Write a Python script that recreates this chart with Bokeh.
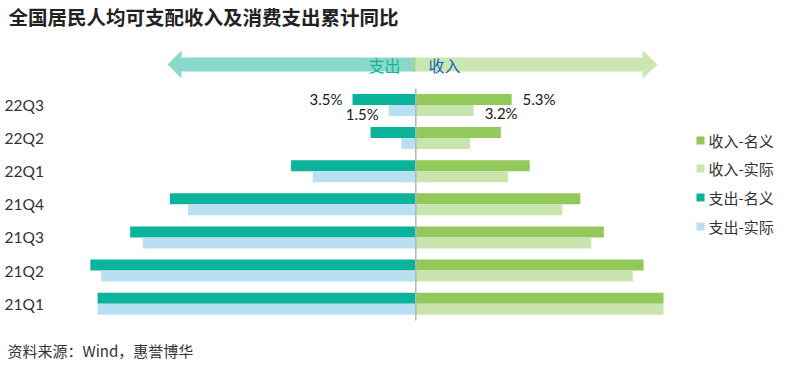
from bokeh.plotting import figure
from bokeh.models import Range1d
from bokeh.core.properties import value
from bokeh.embed import file_html
from bokeh.resources import INLINE

# ---------------- data ----------------
categories = ["21Q1", "21Q2", "21Q3", "21Q4", "22Q1", "22Q2", "22Q3"]
income_nominal = [13.7, 12.6, 10.4, 9.1, 6.3, 4.7, 5.3]
income_real = [13.7, 12.0, 9.7, 8.1, 5.1, 3.0, 3.2]
spend_nominal = [17.6, 18.0, 15.8, 13.6, 6.9, 2.5, 3.5]
spend_real = [17.6, 17.4, 15.1, 12.6, 5.7, 0.8, 1.5]
legend_labels = ["收入-名义", "收入-实际", "支出-名义", "支出-实际"]
title_text = "全国居民人均可支配收入及消费支出累计同比"
source_text = "资料来源：Wind，惠誉博华"

# ---------------- styles ----------------
C_INC_NOM = "#92c95a"
C_INC_REAL = "#c9e5ae"
C_SP_NOM = "#0bb39b"
C_SP_REAL = "#b7e0f3"
colors = [C_INC_NOM, C_INC_REAL, C_SP_NOM, C_SP_REAL]
CJK = value("Noto Sans CJK SC")
LAT = value("Lato")

W, H = 792, 367
ZERO_PX = 415.3      # x of 0%
SX = 18.08           # px per percentage point
CAT0_PX = 303.2      # y of first category center
SY = 33.13           # px per category

x_start = (0 - ZERO_PX) / SX
x_end = (W - ZERO_PX) / SX
y_end = CAT0_PX / SY
y_start = (CAT0_PX - H) / SY


def fx(px):
    return (px - ZERO_PX) / SX


def fy(py):
    return (CAT0_PX - py) / SY


p = figure(width=W, height=H, x_range=Range1d(x_start, x_end),
           y_range=Range1d(y_start, y_end), output_backend="svg",
           toolbar_location=None, x_axis_location=None, y_axis_location=None,
           min_border=0)
p.grid.visible = False
p.outline_line_color = None
p.background_fill_color = "white"
p.border_fill_color = "white"

idx = list(range(len(categories)))
bh = 11.0 / SY

p.hbar(y=[i + bh / 2 for i in idx], left=0, right=income_nominal, height=bh,
       fill_color=C_INC_NOM, line_color=None)
p.hbar(y=[i - bh / 2 for i in idx], left=0, right=income_real, height=bh,
       fill_color=C_INC_REAL, line_color=None)
p.hbar(y=[i + bh / 2 for i in idx], left=[-v for v in spend_nominal], right=0,
       height=bh, fill_color=C_SP_NOM, line_color=None)
p.hbar(y=[i - bh / 2 for i in idx], left=[-v for v in spend_real], right=0,
       height=bh, fill_color=C_SP_REAL, line_color=None)

# centre line
p.segment(x0=[0], y0=[fy(88)], x1=[0], y1=[fy(320)], line_color="#b5b5b5",
          line_width=1.5)

# arrows
left_arrow_x = [167, 181, 181, 413, 413, 181, 181]
left_arrow_y = [64, 50, 57, 57, 71, 71, 78]
p.patch([fx(v) for v in left_arrow_x], [fy(v) for v in left_arrow_y],
        fill_color="#88d8cc", line_color=None)
right_arrow_x = [412, 642, 642, 657, 642, 642, 412]
right_arrow_y = [57, 57, 50, 64, 78, 71, 71]
p.patch([fx(v) for v in right_arrow_x], [fy(v) for v in right_arrow_y],
        fill_color="#cbe6b0", line_color=None)
p.quad(left=[fx(412)], right=[fx(415)], top=[fy(57)], bottom=[fy(71)],
       fill_color="#9ad6a0", line_color=None)
p.text(x=[fx(400)], y=[fy(64)], text=["支出"], text_align="right",
       text_baseline="middle", text_font=CJK, text_font_size="16px",
       text_color="#14b39a")
p.text(x=[fx(428)], y=[fy(64)], text=["收入"], text_align="left",
       text_baseline="middle", text_font=CJK, text_font_size="16px",
       text_color="#1565c0")

# value labels for latest quarter
last = len(categories) - 1
p.text(x=[-spend_nominal[last]], y=[last + bh / 2],
       text=[f"{spend_nominal[last]:.1f}%"], x_offset=-10, text_align="right",
       text_baseline="middle", text_font=LAT, text_font_size="15px",
       text_color="#1a1a1a")
p.text(x=[-spend_real[last]], y=[last - bh / 2],
       text=[f"{spend_real[last]:.1f}%"], x_offset=-10, y_offset=4,
       text_align="right", text_baseline="middle", text_font=LAT,
       text_font_size="15px", text_color="#1a1a1a")
p.text(x=[income_nominal[last]], y=[last + bh / 2],
       text=[f"{income_nominal[last]:.1f}%"], x_offset=11, text_align="left",
       text_baseline="middle", text_font=LAT, text_font_size="15px",
       text_color="#1a1a1a")
p.text(x=[income_real[last]], y=[last - bh / 2],
       text=[f"{income_real[last]:.1f}%"], x_offset=11, y_offset=3,
       text_align="left", text_baseline="middle", text_font=LAT,
       text_font_size="15px", text_color="#1a1a1a")

# category labels
p.text(x=[fx(4)] * len(idx), y=idx, text=categories, text_align="left",
       text_baseline="middle", text_font=LAT, text_font_size="15.5px",
       text_color="#333333")

# legend
leg_y = [140, 168, 197, 226]
p.scatter(x=[fx(700)] * 4, y=[fy(v) for v in leg_y], marker="square", size=8,
          fill_color=colors, line_color=None)
p.text(x=[fx(708)] * 4, y=[fy(v) for v in leg_y], text=legend_labels,
       text_align="left", text_baseline="middle", text_font=CJK,
       text_font_size="15px", text_color="#333333")

# title & source
p.text(x=[fx(8)], y=[fy(16)], text=[title_text], text_align="left",
       text_baseline="middle", text_font=CJK, text_font_size="19.5px",
       text_font_style="bold", text_color="#222222")
p.text(x=[fx(7)], y=[fy(350)], text=[source_text], text_align="left",
       text_baseline="middle", text_font=CJK, text_font_size="15px",
       text_color="#333333")

open("out.html", "w").write(file_html(p, INLINE))
